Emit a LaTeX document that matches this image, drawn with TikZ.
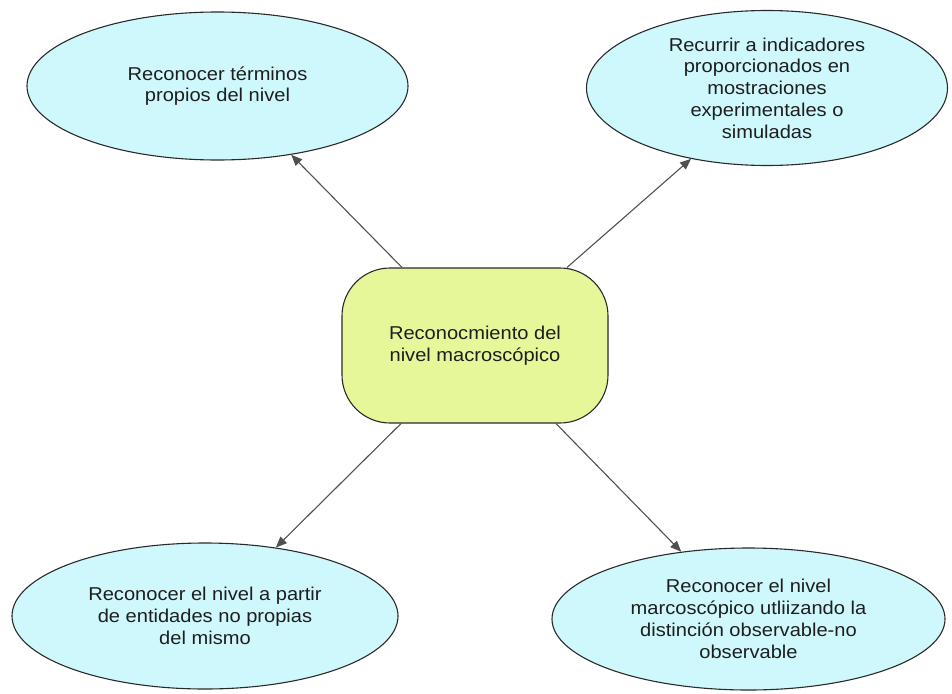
\documentclass[tikz,border=0pt]{standalone}
\usepackage{fontspec}
\setmainfont{Liberation Sans}[FakeStretch=1.08]
\usetikzlibrary{shapes.geometric,arrows.meta}
\definecolor{ellfill}{HTML}{CFF8FC}
\definecolor{boxfill}{HTML}{E6F79A}
\definecolor{edgecol}{HTML}{2A2A2A}
\definecolor{arrcol}{HTML}{505050}
\definecolor{txtcol}{HTML}{1E1E1E}
\tikzset{
  idea/.style={ellipse, draw=edgecol, line width=1.1pt, fill=ellfill, inner sep=0pt,
    align=center, text=txtcol, font=\fontsize{18.6}{21.8}\selectfont},
  core/.style={rectangle, rounded corners=48pt, draw=edgecol, line width=1.1pt, fill=boxfill,
    inner sep=0pt, align=center, text=txtcol, font=\fontsize{18.6}{21.8}\selectfont},
  link/.style={draw=arrcol, line width=1.1pt, -{Triangle[length=11pt,width=9pt]}}
}
\begin{document}
\begin{tikzpicture}[x=1pt,y=-1pt]
\useasboundingbox (0,0) rectangle (952,693);
\node[idea, minimum width=381pt, minimum height=148pt] (tl) at (217.5,86)
  {Reconocer términos\\propios del nivel};
\node[idea, minimum width=361pt, minimum height=155pt] (tr) at (767,88)
  {Recurrir a indicadores\\proporcionados en\\mostraciones\\experimentales o\\simuladas};
\node[core, minimum width=266pt, minimum height=155pt] (c) at (475,345.5)
  {Reconocmiento del\\nivel macroscópico};
\node[idea, minimum width=386pt, minimum height=146pt] (bl) at (205,616)
  {Reconocer el nivel a partir\\de entidades no propias\\del mismo};
\node[idea, minimum width=393pt, minimum height=142pt] (br) at (748.5,619)
  {Reconocer el nivel\\marcoscópico utliizando la\\distinción observable-no\\observable};
\draw[link] ([xshift=-73pt]c.north) -- (tl.-43);
\draw[link] ([xshift=92pt]c.north) -- (tr.-137);
\draw[link] ([xshift=-74pt]c.south) -- (bl.44.6);
\draw[link] ([xshift=81pt]c.south) -- (br.135.6);
\end{tikzpicture}
\end{document}
